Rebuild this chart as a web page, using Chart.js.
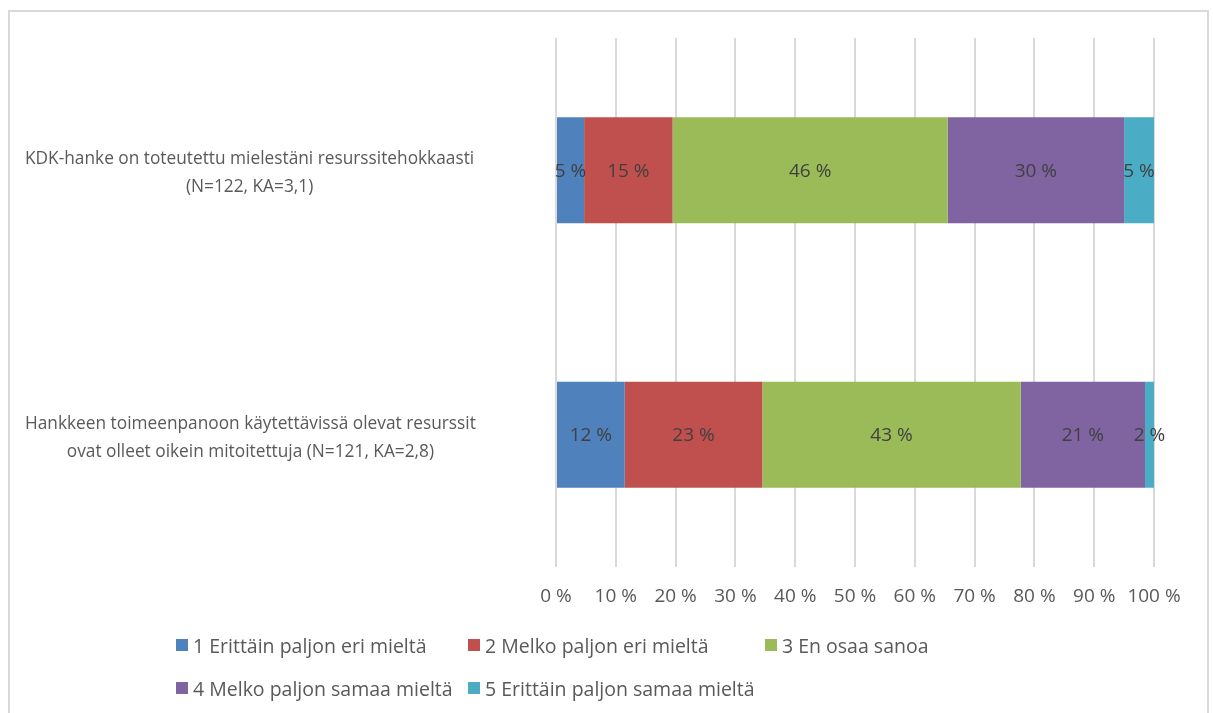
<!DOCTYPE html>
<html>
<head>
<meta charset="utf-8">
<script src="https://cdn.jsdelivr.net/npm/chart.js@4/dist/chart.umd.min.js"></script>
<style>
  body { margin: 0; background: #fff; }
  #frame {
    position: absolute; left: 8px; top: 10px; width: 1201px; height: 720px;
    border: 2px solid #d9d9d9; box-sizing: border-box;
  }
  #wrap { position: absolute; left: 0; top: 0; width: 1213px; height: 713px; }
  #legend {
    position: absolute; left: 176px; top: 634px; width: 820px;
    display: grid; grid-template-columns: 292px 297px auto; row-gap: 21px;
    font-family: "Open Sans", sans-serif; font-size: 19.5px; color: #595959;
  }
  #legend .item { display: flex; align-items: center; height: 22px; white-space: nowrap; }
  #legend .box { width: 12px; height: 12px; margin-right: 5px; }
</style>
</head>
<body>
<div id="frame"></div>
<div id="wrap"><canvas id="resurssit_Chart" width="1213" height="713"></canvas></div>
<div id="legend"></div>
<script>
// kysymykset (y-akselin tekstit)
const questions = [
  ['KDK-hanke on toteutettu mielestäni resurssitehokkaasti', '(N=122, KA=3,1)'],
  ['Hankkeen toimeenpanoon käytettävissä olevat resurssit', 'ovat olleet oikein mitoitettuja (N=121, KA=2,8)']
];
const answers = [
  '1 Erittäin paljon eri mieltä',
  '2 Melko paljon eri mieltä',
  '3 En osaa sanoa',
  '4 Melko paljon samaa mieltä',
  '5 Erittäin paljon samaa mieltä'
];
// osuudet prosentteina, luettu kuvasta
const v1 = [4.7, 11.5];
const v2 = [14.8, 23.0];
const v3 = [46.0, 43.2];
const v4 = [29.5, 20.8];
const v5 = [5.0, 1.5];
const colors = ['#4f81bd', '#c0504d', '#9bbb59', '#8064a2', '#4bacc6'];
const xTicks = [0, 10, 20, 30, 40, 50, 60, 70, 80, 90, 100];

const FONT = '"Open Sans", sans-serif';

const data = {
  labels: questions,
  datasets: [v1, v2, v3, v4, v5].map((vals, i) => ({
    label: answers[i],
    data: vals,
    backgroundColor: colors[i],
    borderWidth: 0,
    barPercentage: 0.4,
    categoryPercentage: 1
  }))
};

// data labels inside the bars
const barLabels = {
  id: 'barLabels',
  afterDatasetsDraw(chart) {
    const ctx = chart.ctx;
    ctx.save();
    ctx.font = '19px ' + FONT;
    ctx.fillStyle = '#404040';
    ctx.textAlign = 'center';
    ctx.textBaseline = 'middle';
    chart.data.datasets.forEach((ds, i) => {
      chart.getDatasetMeta(i).data.forEach((bar, j) => {
        const p = bar.getCenterPoint();
        ctx.fillText(Math.round(ds.data[j]) + ' %', p.x, p.y + 1);
      });
    });
    ctx.restore();
  }
};

// y-axis labels: block left aligned, lines centred within block
const questionLabels = {
  id: 'questionLabels',
  afterDraw(chart) {
    const ctx = chart.ctx;
    const y = chart.scales.y;
    ctx.save();
    ctx.font = '17.3px ' + FONT;
    ctx.fillStyle = '#595959';
    ctx.textAlign = 'center';
    ctx.textBaseline = 'middle';
    chart.data.labels.forEach((lines, i) => {
      const cy = y.getPixelForValue(i);
      const w = Math.max(...lines.map(l => ctx.measureText(l).width));
      const cx = 25 + w / 2;
      lines.forEach((l, k) => {
        ctx.fillText(l, cx, cy + (k - (lines.length - 1) / 2) * 28 + 3);
      });
    });
    ctx.restore();
  }
};

const config = {
  type: 'bar',
  data: data,
  options: {
    indexAxis: 'y',
    responsive: false,
    animation: false,
    layout: { padding: { top: 38, right: 59, left: 0, bottom: 0 } },
    plugins: {
      legend: { display: false },
      tooltip: { enabled: false }
    },
    scales: {
      x: {
        stacked: true,
        min: 0,
        max: 100,
        afterBuildTicks: s => { s.ticks = xTicks.map(v => ({ value: v })); },
        afterFit: s => { s.height = 146; },
        grid: { color: '#d9d9d9', lineWidth: 2, drawTicks: false },
        border: { display: false },
        ticks: {
          padding: 18,
          color: '#595959',
          font: { family: FONT, size: 19 },
          callback: v => v + ' %'
        }
      },
      y: {
        stacked: true,
        afterFit: s => { s.width = 556; },
        grid: { display: false },
        border: { display: false },
        ticks: { display: false }
      }
    }
  },
  plugins: [barLabels, questionLabels]
};

const myChart = new Chart(document.getElementById('resurssit_Chart'), config);

// legend as html
const legendEl = document.getElementById('legend');
myChart.data.datasets.forEach(ds => {
  const item = document.createElement('div');
  item.className = 'item';
  const box = document.createElement('span');
  box.className = 'box';
  box.style.background = ds.backgroundColor;
  const txt = document.createElement('span');
  txt.textContent = ds.label;
  item.appendChild(box);
  item.appendChild(txt);
  legendEl.appendChild(item);
});
</script>
</body>
</html>
